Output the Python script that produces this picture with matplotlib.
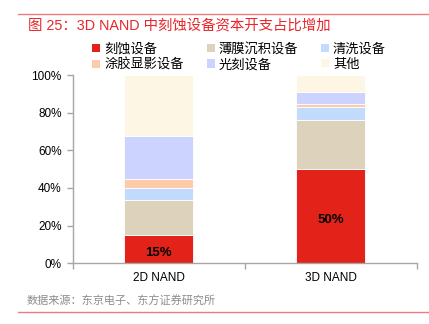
import matplotlib.pyplot as plt
from matplotlib.patches import Patch
from matplotlib.lines import Line2D
import matplotlib.ticker as mticker

plt.rcParams['font.family'] = ['Liberation Sans', 'Noto Sans CJK SC', 'DejaVu Sans']

# 数据
categories = ['2D NAND', '3D NAND']
series_names = ['刻蚀设备', '薄膜沉积设备', '清洗设备', '涂胶显影设备', '光刻设备', '其他']
etch = [15, 50]
film = [18.5, 26]
clean = [6.7, 7.2]
coat = [4.5, 1.3]
litho = [23, 6.7]
other = [32.3, 8.8]
bar_labels = ['15%', '50%']

colors = ['#E32219', '#DDD3BD', '#C2DAFE', '#FDCBA9', '#CBD3FE', '#FEF6E5']
series = [etch, film, clean, coat, litho, other]

fig = plt.figure(figsize=(4.29, 3.24), dpi=100)
ax = fig.add_axes([0.1695, 0.1873, 0.8015, 0.5812])

x = list(range(len(categories)))
bottom = [0] * len(categories)
handles = []
for name, vals, c in zip(series_names, series, colors):
    ax.bar(x, vals, bottom=bottom, width=0.4, color=c, edgecolor='white', linewidth=0.6)
    bottom = [b + v for b, v in zip(bottom, vals)]
    handles.append(Patch(facecolor=c, edgecolor='none'))

# 刻蚀占比标注
for xi, v, lab in zip(x, etch, bar_labels):
    ax.text(xi, v / 2 - 1.8, lab, ha='center', va='center', fontsize=9.5, fontweight='bold', color='black')

ax.set_xlim(-0.5, 1.5)
ax.set_ylim(0, 100)
ax.yaxis.set_major_locator(mticker.MultipleLocator(20))
ax.yaxis.set_major_formatter(mticker.FuncFormatter(lambda v, p: f'{int(v)}%'))

ax.set_xticks([-0.5, 0.5, 1.5])
ax.set_xticklabels([])
ax.set_xticks(x, minor=True)
ax.set_xticklabels(categories, minor=True)
ax.tick_params(axis='x', which='major', length=4, color='#A6A6A6', width=1)
ax.tick_params(axis='x', which='minor', length=0, pad=6, labelsize=8.5)
ax.tick_params(axis='y', length=4, color='#A6A6A6', width=1, labelsize=8.5, pad=4)

for s in ['top', 'right']:
    ax.spines[s].set_visible(False)
for s in ['left', 'bottom']:
    ax.spines[s].set_color('#A6A6A6')
    ax.spines[s].set_linewidth(1)

# 图例（按行排列）
order = [0, 3, 1, 4, 2, 5]
fig.legend([handles[i] for i in order], [series_names[i] for i in order],
           ncol=3, loc='upper left', bbox_to_anchor=(0.215, 0.869),
           frameon=False, fontsize=9.5, handlelength=0.6, handleheight=0.6,
           handletextpad=0.3, columnspacing=1.75, labelspacing=0.25,
           borderaxespad=0, borderpad=0)

# 标题与来源
fig.text(0.065, 0.922, '图 25：3D NAND 中刻蚀设备资本开支占比增加', color='#E8262B',
         fontsize=10.4, fontweight='medium', va='center', ha='left')
fig.add_artist(Line2D([0.042, 1.0], [0.957, 0.957], color='#EE7B7B', linewidth=1, transform=fig.transFigure))
fig.add_artist(Line2D([0.042, 1.0], [0.038, 0.038], color='#EE7B7B', linewidth=1, transform=fig.transFigure))
fig.text(0.063, 0.071, '数据来源：东京电子、东方证券研究所', color='#8C8C8C', fontsize=8, va='center', ha='left')

fig.savefig('out.png', dpi=100)
